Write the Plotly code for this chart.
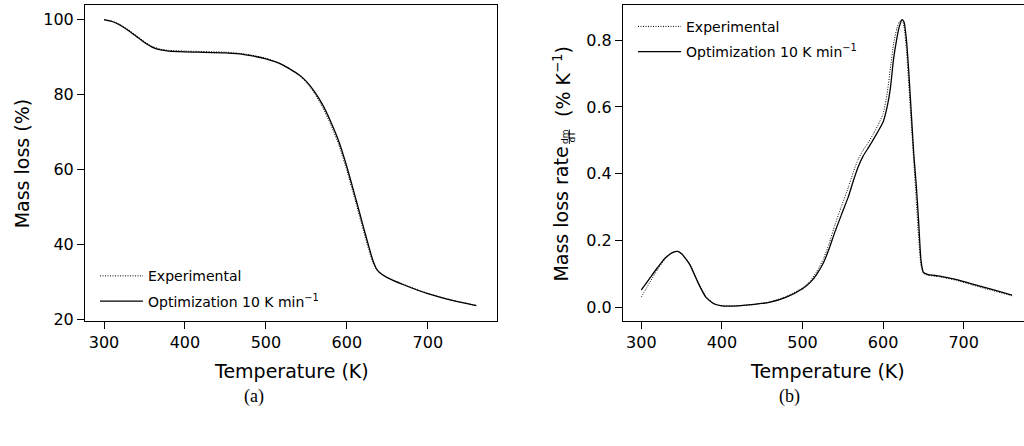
import plotly.graph_objects as go

# ---- (a) mass curves ----
T_mass = [300, 310, 320, 330, 340, 350, 360, 370, 380, 400, 450, 475, 500, 520, 540,
          550, 560, 570, 580, 590, 600, 610, 620, 627, 632, 637, 642, 650, 670, 700, 730, 760]
mass_exp = [100.0, 99.6, 98.7, 97.3, 95.7, 94.1, 92.8, 92.1, 91.8, 91.6, 91.3, 90.8, 89.7, 88.1, 85.3,
            83.2, 80.3, 76.6, 72.0, 66.6, 59.7, 52.0, 44.0, 38.6, 35.2, 33.1, 32.1, 31.1, 29.3, 26.9, 25.1, 23.7]
mass_opt = [100.0, 99.5, 98.5, 97.1, 95.5, 93.9, 92.6, 91.9, 91.6, 91.4, 91.1, 90.6, 89.5, 88.0, 85.4,
            83.5, 80.8, 77.3, 72.8, 67.5, 60.7, 53.0, 45.0, 39.5, 35.8, 33.3, 32.2, 31.1, 29.2, 26.8, 25.0, 23.6]

# ---- (b) mass loss rate curves ----
T_rate = [300, 310, 320, 330, 340, 345, 350, 360, 370, 380, 390, 400, 420, 440, 460, 480, 500, 510,
          518, 526, 533, 540, 548, 557, 563, 569, 575, 582, 588, 594, 600, 605, 609, 613, 617, 620,
          623.5, 626, 629, 632, 635, 638, 641, 644, 647, 650, 655, 670, 690, 710, 735, 760]
rate_exp = [0.030, 0.072, 0.112, 0.146, 0.165, 0.167, 0.161, 0.130, 0.078, 0.032, 0.011, 0.004, 0.004,
            0.008, 0.016, 0.032, 0.058, 0.080, 0.108, 0.145, 0.190, 0.245, 0.300, 0.360, 0.405, 0.443,
            0.470, 0.495, 0.520, 0.547, 0.580, 0.640, 0.715, 0.790, 0.835, 0.855, 0.860, 0.840, 0.770,
            0.660, 0.550, 0.440, 0.325, 0.210, 0.125, 0.102, 0.096, 0.091, 0.081, 0.067, 0.050, 0.034]
rate_opt = [0.052, 0.085, 0.118, 0.148, 0.165, 0.167, 0.160, 0.128, 0.075, 0.030, 0.010, 0.004, 0.004,
            0.008, 0.015, 0.030, 0.055, 0.075, 0.100, 0.133, 0.175, 0.224, 0.275, 0.332, 0.378, 0.420,
            0.452, 0.479, 0.503, 0.528, 0.555, 0.600, 0.656, 0.744, 0.805, 0.840, 0.862, 0.855, 0.800,
            0.700, 0.580, 0.460, 0.370, 0.260, 0.140, 0.104, 0.098, 0.093, 0.083, 0.070, 0.053, 0.036]

T_ticks = [300, 400, 500, 600, 700]
mass_ticks = [20, 40, 60, 80, 100]
rate_ticks = [0.0, 0.2, 0.4, 0.6, 0.8]
labels = ["Experimental", "Optimization 10 K min<sup>\u22121</sup>"]

W, H = 1024, 446
FONT = "DejaVu Sans"
DOTTED = dict(color="black", width=1, dash="1px,1.5px", shape="spline", smoothing=0.5)
SOLID = dict(color="black", width=1.3, shape="spline", smoothing=0.5)


def px_x(v):
    return v / W


def px_y(v):
    return (H - v) / H


fig = go.Figure()

fig.add_trace(go.Scatter(x=T_mass, y=mass_exp, name=labels[0], legend="legend", legendgroup="a1",
                         mode="lines", line=DOTTED, xaxis="x", yaxis="y"))
fig.add_trace(go.Scatter(x=T_mass, y=mass_opt, name=labels[1], legend="legend", legendgroup="a2",
                         mode="lines", line=SOLID, xaxis="x", yaxis="y"))
fig.add_trace(go.Scatter(x=T_rate, y=rate_exp, name=labels[0], legend="legend2", legendgroup="b1",
                         mode="lines", line=DOTTED, xaxis="x2", yaxis="y2"))
fig.add_trace(go.Scatter(x=T_rate, y=rate_opt, name=labels[1], legend="legend2", legendgroup="b2",
                         mode="lines", line=SOLID, xaxis="x2", yaxis="y2"))

ydom = [px_y(327), px_y(5)]
axis_common = dict(showgrid=False, zeroline=False, showline=True, linecolor="black", linewidth=1,
                   ticks="outside", ticklen=7, tickwidth=1, tickcolor="black",
                   tickfont=dict(family=FONT, size=16, color="black"))

legend_common = dict(xanchor="left", yanchor="top", xref="paper", yref="paper",
                     bgcolor="rgba(0,0,0,0)", borderwidth=0, itemwidth=43, tracegroupgap=4,
                     traceorder="grouped", font=dict(family=FONT, size=14, color="black"))

fig.update_layout(
    width=W, height=H, autosize=False,
    margin=dict(l=0, r=0, t=0, b=0),
    paper_bgcolor="white", plot_bgcolor="white",
    font=dict(family=FONT, color="black"),
    xaxis=dict(domain=[px_x(85), px_x(497)], range=[276.5, 785.5], tickvals=T_ticks,
               mirror=True, anchor="y", **axis_common),
    yaxis=dict(domain=ydom, range=[19.48, 103.93], tickvals=mass_ticks,
               mirror=True, anchor="x", **axis_common),
    xaxis2=dict(domain=[px_x(623), 1.0], range=[277.3, 774.8], tickvals=T_ticks,
                mirror=True, anchor="y2", **axis_common),
    yaxis2=dict(domain=ydom, range=[-0.042, 0.906], tickvals=rate_ticks, tickformat=".1f",
                mirror=False, anchor="x2", **axis_common),
    legend=dict(x=px_x(95), y=px_y(265), **legend_common),
    legend2=dict(x=px_x(633), y=px_y(11), **legend_common),
    showlegend=True,
)

ann = []
title_font = dict(family=FONT, size=19, color="black")
frac_font = dict(family=FONT, size=9, color="black")
# axis titles
ann.append(dict(text="Temperature (K)", x=px_x(291), y=px_y(378), xanchor="center", yanchor="middle",
                font=title_font))
ann.append(dict(text="Temperature (K)", x=px_x(827), y=px_y(378), xanchor="center", yanchor="middle",
                font=title_font))
ann.append(dict(text="Mass loss (%)", x=px_x(21.8), y=px_y(166.5), xanchor="center", yanchor="middle",
                textangle=-90, font=title_font))
ann.append(dict(text="Mass loss rate", x=px_x(561.5), y=px_y(218), xanchor="center", yanchor="middle",
                textangle=-90, font=title_font))
ann.append(dict(text="<u>dm</u>", x=px_x(564.4), y=px_y(139), xanchor="center", yanchor="middle",
                textangle=-90, font=frac_font))
ann.append(dict(text="dT", x=px_x(572), y=px_y(139), xanchor="center", yanchor="middle",
                textangle=-90, font=frac_font))
ann.append(dict(text="(% K<sup>\u22121</sup>)", x=px_x(561.5), y=px_y(83), xanchor="center", yanchor="middle",
                textangle=-90, font=title_font))
# panel captions
ann.append(dict(text="(a)", x=px_x(254), y=px_y(404), xanchor="center", yanchor="middle",
                font=dict(family="Liberation Serif", size=18, color="black")))
ann.append(dict(text="(b)", x=px_x(789.5), y=px_y(404), xanchor="center", yanchor="middle",
                font=dict(family="Liberation Serif", size=18, color="black")))

for a in ann:
    a.update(xref="paper", yref="paper", showarrow=False, borderpad=0, borderwidth=0)
fig.update_layout(annotations=ann)

fig.write_html("out.html")
